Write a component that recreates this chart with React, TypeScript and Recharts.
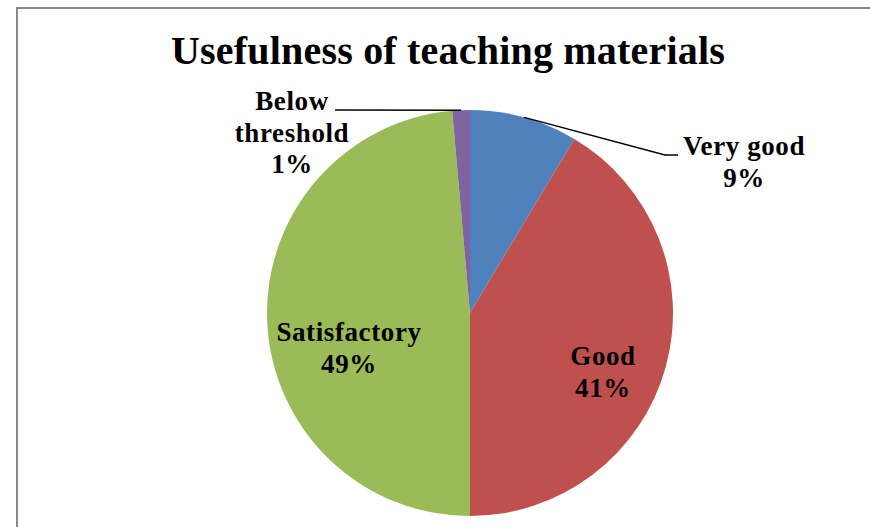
import { Cell, Pie, PieChart } from "recharts";

// ratings and their shares (percent labels are rounded in the chart)
const categories = ["Very good", "Good", "Satisfactory", "Below threshold"];
const shares = [8.6, 41.4, 48.6, 1.4];

const COLORS = ["#4f81bd", "#c0504d", "#9bbb59", "#8064a2"];
const FONT = "'Liberation Serif', 'Times New Roman', serif";

const data = categories.map((name, i) => ({ name, value: shares[i] }));

// label placement, relative to the pie centre (first baseline, centred)
const LABEL_POS = [
  { dx: 274, dy: -158, lines: ["Very good"] },
  { dx: 133, dy: 52, lines: ["Good"] },
  { dx: -121, dy: 28, lines: ["Satisfactory"] },
  { dx: -178, dy: -203, lines: ["Below", "threshold"] },
];
// leader line bends, relative to the pie centre
const LEADERS: (number[][] | null)[] = [
  [[195, -158], [208, -158]],
  null,
  null,
  [[-135, -203]],
];

const RADIAN = Math.PI / 180;

const renderLabel = (props: any) => {
  const { cx, cy, midAngle, outerRadius, index, percent } = props;
  const pos = LABEL_POS[index];
  const x = cx + pos.dx;
  const y = cy + pos.dy;
  const lines = [...pos.lines, `${Math.round(percent * 100)}%`];
  const leader = LEADERS[index];
  let path = null;
  if (leader) {
    const sx = cx + outerRadius * Math.cos(-midAngle * RADIAN);
    const sy = cy + outerRadius * Math.sin(-midAngle * RADIAN);
    const pts = [[sx, sy], ...leader.map(([a, b]) => [cx + a, cy + b])];
    path = (
      <polyline
        points={pts.map((p) => p.join(",")).join(" ")}
        fill="none"
        stroke="#000"
        strokeWidth={1.5}
      />
    );
  }
  return (
    <g key={`label-${index}`}>
      {path}
      {lines.map((t, i) => (
        <text
          key={t}
          x={x}
          y={y + i * 31.5}
          textAnchor="middle"
          fontFamily={FONT}
          fontWeight="bold"
          fontSize={27}
          letterSpacing={0.6}
          fill="#000"
        >
          {t}
        </text>
      ))}
    </g>
  );
};

export default function App() {
  return (
    <div style={{ position: "absolute", left: 0, top: 0, width: 870, height: 527, background: "#fff", overflow: "hidden" }}>
      <div
        style={{
          position: "absolute",
          left: 16,
          top: 7,
          width: 870,
          height: 540,
          borderLeft: "2px solid #888",
          borderTop: "2px solid #888",
        }}
      />
      <div
        style={{
          position: "absolute",
          left: 0,
          width: 896,
          top: 31,
          textAlign: "center",
          fontFamily: FONT,
          fontWeight: "bold",
          fontSize: 40,
          lineHeight: "40px",
          letterSpacing: 0.2,
          color: "#000",
        }}
      >
        Usefulness of teaching materials
      </div>
      <div style={{ position: "absolute", left: 0, top: 0 }}>
        <PieChart width={870} height={527} margin={{ top: 0, right: 0, bottom: 0, left: 0 }}>
          <Pie
            data={data}
            dataKey="value"
            nameKey="name"
            cx={470}
            cy={313}
            outerRadius={203}
            startAngle={90}
            endAngle={-270}
            stroke="none"
            label={renderLabel}
            labelLine={false}
            isAnimationActive={false}
          >
            {data.map((d, i) => (
              <Cell key={d.name} fill={COLORS[i]} />
            ))}
          </Pie>
        </PieChart>
      </div>
    </div>
  );
}
